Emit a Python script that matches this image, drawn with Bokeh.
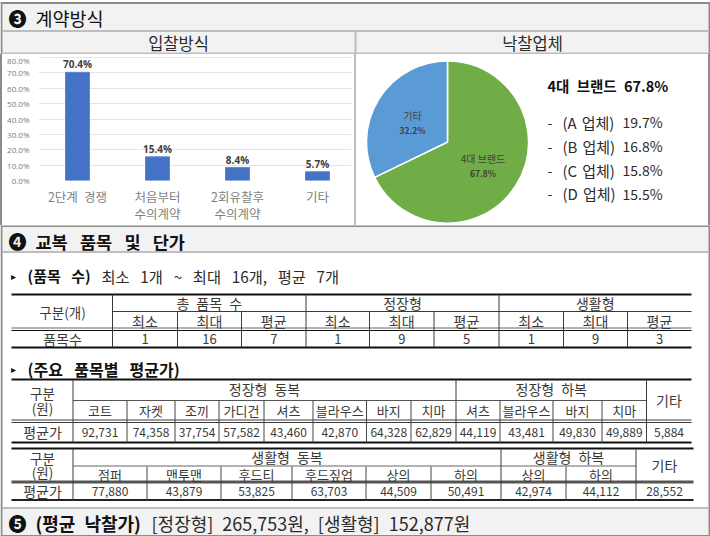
from bokeh.plotting import figure
from bokeh.models import Range1d, FixedTicker, PrintfTickFormatter, ColumnDataSource, Spacer
from bokeh.layouts import column, row
from bokeh.core.properties import value
from bokeh.embed import file_html
from bokeh.resources import INLINE
from math import pi

FONT = "Noto Sans CJK KR"

# ---- data ----
bid_methods = ["2단계\u2002경쟁", "처음부터\n수의계약", "2회유찰후\n수의계약", "기타"]
bid_shares = [70.4, 15.4, 8.4, 5.7]
bid_ticks = [0, 10, 20, 30, 40, 50, 60, 70, 80]

pie_labels = ["4대 브랜드", "기타"]
pie_shares = [67.8, 32.2]
brand_title = "4대 브랜드 67.8%"
brand_names = ["(A 업체)", "(B 업체)", "(C 업체)", "(D 업체)"]
brand_shares = ["19.7%", "16.8%", "15.8%", "15.5%"]

item_groups = ["총 품목 수", "정장형", "생활형"]
item_subs = ["최소", "최대", "평균"] * 3
item_counts = ["1", "16", "7", "1", "9", "5", "1", "9", "3"]

formal_groups = ["정장형 동복", "정장형 하복"]
formal_items = ["코트", "자켓", "조끼", "가디건", "셔츠", "블라우스", "바지", "치마",
                "셔츠", "블라우스", "바지", "치마"]
formal_prices = ["92,731", "74,358", "37,754", "57,582", "43,460", "42,870", "64,328",
                 "62,829", "44,119", "43,481", "49,830", "49,889"]
formal_other = "5,884"

casual_groups = ["생활형 동복", "생활형 하복"]
casual_items = ["점퍼", "맨투맨", "후드티", "후드짚업", "상의", "하의", "상의", "하의"]
casual_prices = ["77,880", "43,879", "53,825", "63,703", "44,509", "50,491", "42,974", "44,112"]
casual_other = "28,552"

BAND = "#f2f2f2"
EDGE = "#8c8c8c"
SOFT = "#bdbdbd"
INK = "#2b2b2b"
DARK = "#3a3a3a"
GAP = "\u2002\u2009"


def wide(s, sep=GAP):
    return s.replace(" ", sep)


def canvas(x0, y0, x1, y1):
    p = figure(width=x1 - x0, height=y1 - y0, output_backend="svg", toolbar_location=None,
               x_range=Range1d(x0, x1), y_range=Range1d(y1, y0), min_border=0)
    p.axis.visible = False
    p.grid.visible = False
    p.outline_line_color = None
    return p


def put(p, xs, ys, texts, size=13, color=INK, weight="normal", align="center"):
    src = ColumnDataSource(dict(x=xs, y=ys, t=texts))
    p.text("x", "y", "t", source=src, text_font=value(FONT), text_font_size=f"{size}px",
           text_color=color, text_font_style=weight, text_align=align, text_baseline="middle")


def hline(p, x0, x1, y, color=DARK, w=1):
    p.segment([x0], [y], [x1], [y], line_color=color, line_width=w)


def vlines(p, xs, y0, y1, color=DARK, w=1):
    p.segment(xs, [y0] * len(xs), xs, [y1] * len(xs), line_color=color, line_width=w)


def mids(edges):
    return [(a + b) / 2 for a, b in zip(edges[:-1], edges[1:])]


# ---- top strip: section header and the two panel titles ----
top = canvas(0, 0, 710, 54)
top.quad(left=[2], right=[708], top=[3], bottom=[30], fill_color=BAND, line_color=None)
top.quad(left=[2], right=[708], top=[31], bottom=[53], fill_color=BAND, line_color=None)
top.quad(left=[0], right=[2], top=[2], bottom=[54], fill_color=EDGE, line_color=None)
top.quad(left=[708], right=[710], top=[2], bottom=[54], fill_color=EDGE, line_color=None)
hline(top, 0, 710, 2.5, EDGE, 2)
hline(top, 2, 708, 30.5, SOFT, 2)
hline(top, 2, 708, 53, SOFT, 2)
vlines(top, [355], 31, 54, SOFT, 2)
put(top, [17], [17], ["❸"], 18, "#111111", "bold")
put(top, [35], [17], ["계약방식"], 18.5, "#111111", "normal", "left")
put(top, [178, 532], [42, 42], ["입찰방식", "낙찰업체"], 16.5, INK)

# ---- bar panel ----
bars = figure(width=352, height=171, output_backend="svg", toolbar_location=None,
              x_range=Range1d(-0.4875, 3.425), y_range=Range1d(0, 82),
              min_border_left=36, min_border_right=3, min_border_top=0, min_border_bottom=44)
bars.outline_line_color = None
xpos = list(range(len(bid_methods)))
bars.vbar(x=xpos, top=bid_shares, width=0.3, fill_color="#4472c4", line_color="#5b86d4")
src = ColumnDataSource(dict(x=xpos, y=bid_shares, t=[f"{v:.1f}%" for v in bid_shares]))
bars.text("x", "y", "t", source=src, text_font=value("Open Sans"), text_font_size="10px",
          text_font_style="bold", text_color="#404040", text_align="center",
          text_baseline="bottom", y_offset=-1)
bars.xgrid.visible = False
bars.ygrid.ticker = FixedTicker(ticks=bid_ticks)
bars.ygrid.grid_line_color = "#e4e4e4"
bars.yaxis.ticker = FixedTicker(ticks=bid_ticks)
bars.yaxis.formatter = PrintfTickFormatter(format="%.1f%%")
bars.yaxis.axis_line_color = None
bars.yaxis.major_tick_line_color = None
bars.yaxis.minor_tick_line_color = None
bars.yaxis.major_tick_out = 0
bars.yaxis.major_tick_in = 0
bars.yaxis.major_label_text_font = "Open Sans"
bars.yaxis.major_label_text_font_size = "8px"
bars.yaxis.major_label_text_color = "#7a7a7a"
bars.yaxis.major_label_standoff = 9
bars.xaxis.ticker = FixedTicker(ticks=xpos)
bars.xaxis.major_label_overrides = dict(zip(xpos, bid_methods))
bars.xaxis.axis_line_color = None
bars.xaxis.major_tick_line_color = None
bars.xaxis.minor_tick_line_color = None
bars.xaxis.major_tick_out = 0
bars.xaxis.major_tick_in = 0
bars.xaxis.major_label_text_font = FONT
bars.xaxis.major_label_text_font_size = "12.5px"
bars.xaxis.major_label_text_line_height = 0.9
bars.xaxis.major_label_text_color = "#7f7f7f"
bars.xaxis.major_label_standoff = 6

# ---- pie panel ----
pie = figure(width=352, height=171, output_backend="svg", toolbar_location=None,
             x_range=Range1d(356, 708), y_range=Range1d(225, 54), min_border=0)
pie.axis.visible = False
pie.grid.visible = False
pie.outline_line_color = None
start = pi / 2
ends = []
starts = []
for s in pie_shares:
    starts.append(start)
    start -= 2 * pi * s / sum(pie_shares)
    ends.append(start)
pie.wedge(x=447, y=141.5, radius=81, radius_units="screen", start_angle=starts, end_angle=ends,
          direction="clock", fill_color=["#70ad47", "#5b9bd5"], line_color="white", line_width=1.5)
put(pie, [482.5, 412], [158, 115], pie_labels, 10, "#404040")
put(pie, [482.5, 412], [172, 129], [f"{v:.1f}%" for v in pie_shares], 8.5, "#404040", "bold")
put(pie, [547], [85], [wide(brand_title, "\u2002")], 14.5, "#111111", "bold", "left")
rows_y = [121.5, 145.5, 169.5, 193]
put(pie, [547] * 4, rows_y, ["-"] * 4, 14, INK, "normal", "left")
put(pie, [562] * 4, rows_y, [wide(n, "\u2004") for n in brand_names], 15, INK, "normal", "left")
put(pie, [622] * 4, rows_y, brand_shares, 14, INK, "normal", "left")

# ---- lower part ----
low = canvas(0, 225, 710, 536)
low.quad(left=[2], right=[708], top=[226], bottom=[251], fill_color=BAND, line_color=None)
low.quad(left=[2], right=[708], top=[508], bottom=[535], fill_color=BAND, line_color=None)
low.quad(left=[0], right=[2], top=[225], bottom=[536], fill_color=EDGE, line_color=None)
low.quad(left=[708], right=[710], top=[225], bottom=[536], fill_color=EDGE, line_color=None)
hline(low, 0, 710, 225.5, EDGE, 2)
hline(low, 2, 708, 251.5, SOFT, 2)
hline(low, 2, 708, 507.5, SOFT, 2)
hline(low, 0, 710, 535.5, EDGE, 2)

put(low, [17], [240.5], ["❹"], 18, "#111111", "bold")
put(low, [35], [240.5], [wide("교복 품목 및 단가")], 17.5, "#111111", "bold", "left")
put(low, [13], [275], ["▸"], 10, "#111111")
put(low, [27], [275], [wide("(품목 수)")], 15, "#111111", "bold", "left")
put(low, [101], [275], [wide("최소 1개 ~ 최대 16개, 평균 7개")], 15.3, INK, "normal", "left")
put(low, [13], [368], ["▸"], 10, "#111111")
put(low, [27], [368], [wide("(주요 품목별 평균가)")], 16, "#111111", "bold", "left")

# table 1
e1 = [112, 177, 241, 305.5, 369, 433.5, 498.5, 563, 627, 691]
hline(low, 11, 691, 294, "#111111", 2)
hline(low, 112, 691, 311)
hline(low, 11, 691, 327.5, "#666666")
hline(low, 11, 691, 330, "#111111")
hline(low, 11, 691, 347, "#111111", 2)
vlines(low, [e1[0], e1[3], e1[6]], 294, 347)
vlines(low, e1[1:3] + e1[4:6] + e1[7:9], 311, 347)
put(low, [62], [311.5], ["구분(개)"], 13.5, DARK)
put(low, [62], [338], ["품목수"], 14, DARK)
put(low, mids([e1[0], e1[3], e1[6], e1[9]]), [302.5] * 3, [wide(g, "\u2002") for g in item_groups], 14, DARK)
put(low, mids(e1), [320] * 9, item_subs, 14, DARK)
put(low, mids(e1), [338.5] * 9, item_counts, 13, DARK)

# table 2
e2 = [72.5, 126.5, 174.5, 218.5, 263.5, 312.5, 366, 410.5, 455.5, 499.5, 552.5, 601.5, 646, 691]
hline(low, 11, 691, 379, "#111111", 2)
hline(low, 72.5, 646, 400, "#555555")
hline(low, 11, 691, 419.5)
hline(low, 11, 691, 422)
hline(low, 11, 691, 442, "#111111", 2)
vlines(low, [e2[0], e2[8], e2[12]], 379, 442)
vlines(low, e2[1:8] + e2[9:12], 400, 442, "#444444")
put(low, [42, 42], [392, 407], ["구분", "(원)"], 13.5, DARK)
put(low, [42], [431.5], ["평균가"], 14, DARK)
put(low, [(e2[0] + e2[8]) / 2, (e2[8] + e2[12]) / 2], [388, 388], [wide(g, "\u2002") for g in formal_groups], 14, DARK)
put(low, [668.5], [399], ["기타"], 14, DARK)
put(low, mids(e2[:13]), [410] * 12, formal_items, 13, DARK)
put(low, mids(e2[:13]), [431.5] * 12, formal_prices, 12, DARK)
put(low, [668.5], [431.5], [formal_other], 12, DARK)

# table 3
e3 = [72.5, 146.5, 220.5, 291.5, 365.5, 430.5, 500.5, 565.5, 635.5, 693]
hline(low, 11, 693, 448, "#111111", 2)
hline(low, 72.5, 635.5, 465.5, "#666666")
hline(low, 11, 693, 481.5, "#555555", 3)
hline(low, 11, 693, 499.5, "#222222", 2)
vlines(low, [e3[0], e3[6], e3[8]], 448, 500)
vlines(low, e3[1:6] + e3[7:8], 466, 500, "#444444")
put(low, [42, 42], [457.5, 471], ["구분", "(원)"], 13.5, DARK)
put(low, [42], [490.5], ["평균가"], 14, DARK)
put(low, [(e3[0] + e3[6]) / 2, (e3[6] + e3[8]) / 2], [456, 456], [wide(g, "\u2002") for g in casual_groups], 14, DARK)
put(low, [664], [464.5], ["기타"], 14, DARK)
put(low, mids(e3[:9]), [473.5] * 8, casual_items, 13, DARK)
put(low, mids(e3[:9]), [490.5] * 8, casual_prices, 12, DARK)
put(low, [664], [490.5], [casual_other], 12, DARK)

# closing line
put(low, [17], [522.5], ["❺"], 18, "#111111", "bold")
put(low, [35], [522.5], [wide("(평균 낙찰가)", "\u2002")], 18, "#111111", "bold", "left")
put(low, [151], [522.5], [wide("[정장형] 265,753원, [생활형] 152,877원", "\u2002")], 18, INK, "normal", "left")


def strip(color):
    return Spacer(width=2, height=171, styles={"background-color": color}, margin=0)


for f in (top, bars, pie, low):
    f.margin = 0
    f.frame_align = False
mid = row(strip(EDGE), bars, strip(SOFT), pie, strip(EDGE), spacing=0, margin=0)
page = column(top, mid, low, spacing=0, margin=0)
open("out.html", "w").write(file_html(page, INLINE))
